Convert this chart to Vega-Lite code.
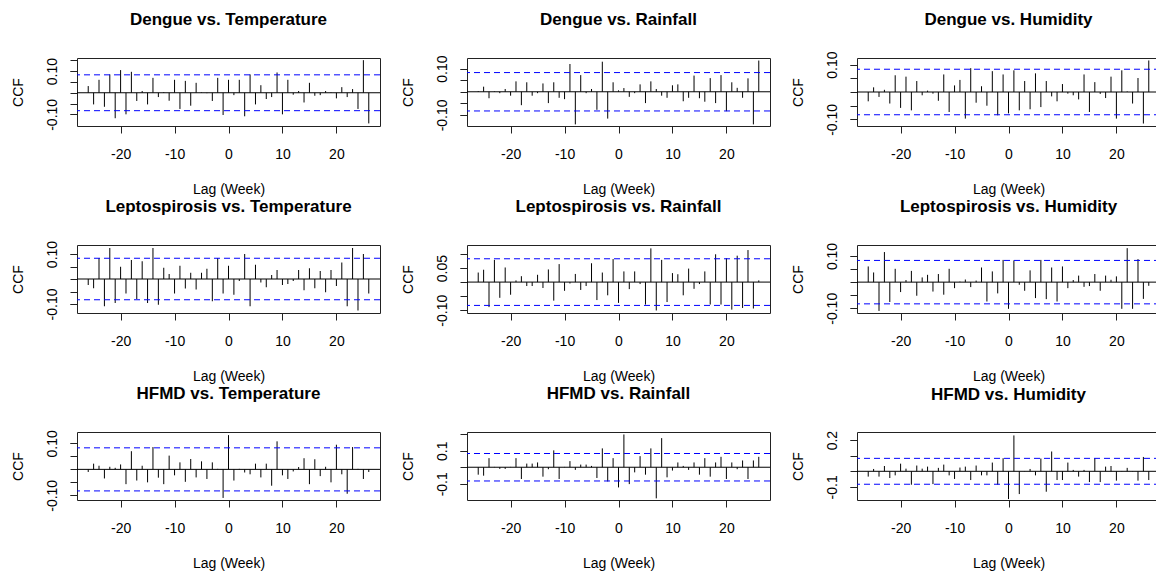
{
  "$schema": "https://vega.github.io/schema/vega-lite/v6.json",
  "autosize": {"type": "pad"},
  "padding": {"left": 10, "top": 10, "right": 0, "bottom": 0},
  "background": "white",
  "bounds": "flush",
  "spacing": 187,
  "config": {
    "font": "Liberation Sans",
    "view": {"stroke": "#222", "strokeWidth": 1},
    "axis": {"domain": false, "grid": false, "tickColor": "#222", "tickSize": 7, "labelColor": "#000", "titleColor": "#000", "labelFont": "Liberation Sans", "titleFont": "Liberation Sans", "labelFontSize": 14, "titleFontSize": 14, "titleFontWeight": "normal", "labelOverlap": false, "labelFlush": false},
    "axisX": {"labelPadding": 14, "titlePadding": 21},
    "axisY": {"labelAngle": -90, "labelAlign": "center", "labelBaseline": "bottom", "labelPadding": 11, "titlePadding": 20},
    "title": {"fontSize": 17, "fontWeight": "bold", "font": "Liberation Sans", "color": "#000", "baseline": "alphabetic", "offset": 29, "anchor": "middle"}
  },
  "datasets": {
    "ccf": [
      {"lag": -26, "dt": 0.031, "dr": 0.003, "dh": -0.034, "lt": -0.024, "lr": 0.034, "lh": 0.06, "ht": -0.01, "hr": -0.045, "hh": -0.034},
      {"lag": -25, "dt": -0.054, "dr": 0.022, "dh": 0.017, "lt": -0.037, "lr": 0.044, "lh": 0.037, "ht": 0.022, "hr": -0.051, "hh": 0.015},
      {"lag": -24, "dt": 0.06, "dr": -0.028, "dh": -0.018, "lt": 0.084, "lr": -0.089, "lh": -0.11, "ht": 0.014, "hr": 0.055, "hh": -0.034},
      {"lag": -23, "dt": -0.065, "dr": 0.002, "dh": 0.008, "lt": -0.109, "lr": 0.079, "lh": 0.115, "ht": -0.035, "hr": 0.002, "hh": 0.034},
      {"lag": -22, "dt": 0.085, "dr": -0.006, "dh": -0.042, "lt": 0.124, "lr": -0.056, "lh": -0.076, "ht": 0.01, "hr": -0.01, "hh": -0.043},
      {"lag": -21, "dt": -0.118, "dr": 0.012, "dh": 0.061, "lt": -0.096, "lr": 0.052, "lh": 0.051, "ht": 0.006, "hr": -0.01, "hh": -0.026},
      {"lag": -20, "dt": 0.105, "dr": -0.017, "dh": -0.058, "lt": 0.049, "lr": -0.045, "lh": -0.038, "ht": 0.019, "hr": 0.002, "hh": 0.049},
      {"lag": -19, "dt": -0.1, "dr": 0.045, "dh": 0.056, "lt": -0.058, "lr": 0.006, "lh": 0.008, "ht": -0.057, "hr": 0.055, "hh": 0.017},
      {"lag": -18, "dt": 0.097, "dr": -0.058, "dh": -0.067, "lt": 0.076, "lr": 0.021, "lh": 0.043, "ht": 0.07, "hr": -0.071, "hh": -0.086},
      {"lag": -17, "dt": -0.038, "dr": 0.041, "dh": 0.04, "lt": -0.08, "lr": -0.014, "lh": -0.052, "ht": -0.043, "hr": 0.022, "hh": 0.037},
      {"lag": -16, "dt": 0.008, "dr": -0.017, "dh": -0.012, "lt": 0.071, "lr": -0.014, "lh": 0.018, "ht": 0.014, "hr": 0.022, "hh": 0.017},
      {"lag": -15, "dt": -0.054, "dr": -0.006, "dh": 0.005, "lt": -0.096, "lr": 0.026, "lh": 0.028, "ht": -0.05, "hr": 0.029, "hh": 0.03},
      {"lag": -14, "dt": 0.069, "dr": 0.036, "dh": -0.006, "lt": 0.124, "lr": -0.021, "lh": -0.036, "ht": 0.086, "hr": -0.057, "hh": -0.082},
      {"lag": -13, "dt": -0.02, "dr": -0.049, "dh": -0.032, "lt": -0.103, "lr": 0.045, "lh": 0.031, "ht": -0.032, "hr": -0.012, "hh": 0.022},
      {"lag": -12, "dt": 0.003, "dr": 0.041, "dh": 0.064, "lt": 0.045, "lr": -0.066, "lh": -0.048, "ht": -0.057, "hr": 0.102, "hh": 0.043},
      {"lag": -11, "dt": -0.037, "dr": -0.026, "dh": -0.073, "lt": 0.02, "lr": 0.064, "lh": 0.051, "ht": 0.053, "hr": -0.071, "hh": -0.026},
      {"lag": -10, "dt": 0.06, "dr": -0.032, "dh": 0.024, "lt": -0.058, "lr": -0.031, "lh": -0.023, "ht": -0.023, "hr": 0.002, "hh": -0.049},
      {"lag": -9, "dt": -0.075, "dr": 0.12, "dh": 0.044, "lt": 0.053, "lr": -0.005, "lh": 0.002, "ht": 0.027, "hr": 0.037, "hh": 0.024},
      {"lag": -8, "dt": 0.055, "dr": -0.141, "dh": -0.097, "lt": -0.038, "lr": 0.029, "lh": 0.01, "ht": -0.048, "hr": -0.016, "hh": 0.03},
      {"lag": -7, "dt": -0.06, "dr": 0.072, "dh": 0.087, "lt": 0.025, "lr": -0.028, "lh": -0.019, "ht": 0.04, "hr": 0.016, "hh": -0.056},
      {"lag": -6, "dt": 0.046, "dr": -0.006, "dh": -0.039, "lt": -0.042, "lr": -0.014, "lh": 0.006, "ht": -0.031, "hr": 0.016, "hh": 0.037},
      {"lag": -5, "dt": 0.002, "dr": 0.012, "dh": 0.021, "lt": 0.025, "lr": 0.067, "lh": 0.056, "ht": 0.031, "hr": 0.008, "hh": -0.026},
      {"lag": -4, "dt": -0.002, "dr": -0.078, "dh": -0.05, "lt": 0.041, "lr": -0.064, "lh": -0.074, "ht": -0.037, "hr": -0.065, "hh": -0.026},
      {"lag": -3, "dt": -0.038, "dr": 0.13, "dh": 0.076, "lt": -0.089, "lr": 0.034, "lh": 0.041, "ht": 0.027, "hr": 0.114, "hh": 0.056},
      {"lag": -2, "dt": 0.069, "dr": -0.116, "dh": -0.085, "lt": 0.084, "lr": -0.047, "lh": -0.043, "ht": 0.002, "hr": -0.086, "hh": -0.086},
      {"lag": -1, "dt": -0.103, "dr": 0.041, "dh": 0.064, "lt": -0.058, "lr": 0.082, "lh": 0.085, "ht": -0.11, "hr": 0.055, "hh": 0.084},
      {"lag": 0, "dt": 0.06, "dr": 0.006, "dh": -0.078, "lt": 0.053, "lr": -0.074, "lh": -0.102, "ht": 0.132, "hr": -0.122, "hh": -0.178},
      {"lag": 1, "dt": -0.011, "dr": 0.016, "dh": 0.079, "lt": -0.063, "lr": 0.038, "lh": 0.083, "ht": -0.043, "hr": 0.198, "hh": 0.23},
      {"lag": 2, "dt": 0.06, "dr": -0.022, "dh": -0.067, "lt": -0.008, "lr": -0.025, "lh": -0.01, "ht": 0.002, "hr": -0.102, "hh": -0.146},
      {"lag": 3, "dt": -0.109, "dr": -0.006, "dh": 0.04, "lt": 0.1, "lr": 0.038, "lh": -0.033, "ht": -0.012, "hr": -0.031, "hh": 0.002},
      {"lag": 4, "dt": 0.085, "dr": 0.032, "dh": -0.063, "lt": -0.109, "lr": -0.007, "lh": 0.045, "ht": -0.019, "hr": 0.067, "hh": 0.015},
      {"lag": 5, "dt": -0.054, "dr": -0.049, "dh": 0.068, "lt": 0.057, "lr": -0.08, "lh": -0.061, "ht": 0.022, "hr": -0.045, "hh": -0.026},
      {"lag": 6, "dt": 0.035, "dr": 0.045, "dh": -0.055, "lt": -0.014, "lr": 0.12, "lh": 0.085, "ht": -0.031, "hr": 0.114, "hh": 0.082},
      {"lag": 7, "dt": -0.029, "dr": 0.012, "dh": 0.04, "lt": -0.033, "lr": -0.101, "lh": -0.065, "ht": 0.022, "hr": -0.188, "hh": -0.131},
      {"lag": 8, "dt": -0.02, "dr": -0.017, "dh": -0.016, "lt": 0.016, "lr": 0.079, "lh": 0.056, "ht": -0.063, "hr": 0.176, "hh": 0.127},
      {"lag": 9, "dt": 0.094, "dr": -0.026, "dh": -0.034, "lt": 0.036, "lr": -0.071, "lh": -0.074, "ht": 0.108, "hr": -0.061, "hh": -0.056},
      {"lag": 10, "dt": -0.1, "dr": 0.028, "dh": 0.029, "lt": -0.024, "lr": 0.032, "lh": 0.06, "ht": -0.023, "hr": -0.02, "hh": -0.056},
      {"lag": 11, "dt": 0.06, "dr": 0.032, "dh": -0.006, "lt": -0.02, "lr": 0.028, "lh": -0.023, "ht": -0.037, "hr": 0.029, "hh": 0.056},
      {"lag": 12, "dt": -0.009, "dr": -0.041, "dh": -0.012, "lt": -0.008, "lr": -0.047, "lh": 0.008, "ht": -0.008, "hr": 0.008, "hh": 0.009},
      {"lag": 13, "dt": 0.008, "dr": -0.026, "dh": -0.027, "lt": 0.036, "lr": 0.048, "lh": 0.025, "ht": 0.009, "hr": -0.016, "hh": -0.034},
      {"lag": 14, "dt": -0.045, "dr": 0.07, "dh": 0.064, "lt": -0.045, "lr": -0.024, "lh": -0.018, "ht": 0.043, "hr": 0.029, "hh": 0.009},
      {"lag": 15, "dt": 0.046, "dr": -0.028, "dh": -0.073, "lt": 0.043, "lr": -0.007, "lh": -0.015, "ht": -0.057, "hr": -0.045, "hh": -0.069},
      {"lag": 16, "dt": -0.014, "dr": -0.043, "dh": 0.036, "lt": -0.037, "lr": 0.038, "lh": 0.031, "ht": 0.039, "hr": 0.055, "hh": 0.084},
      {"lag": 17, "dt": -0.011, "dr": 0.059, "dh": -0.007, "lt": 0.032, "lr": -0.08, "lh": -0.033, "ht": -0.026, "hr": -0.057, "hh": -0.069},
      {"lag": 18, "dt": 0.008, "dr": -0.049, "dh": -0.022, "lt": -0.053, "lr": 0.099, "lh": 0.025, "ht": 0.01, "hr": 0.029, "hh": 0.03},
      {"lag": 19, "dt": 0.002, "dr": 0.072, "dh": 0.056, "lt": 0.036, "lr": -0.08, "lh": 0.009, "ht": -0.05, "hr": 0.063, "hh": 0.034},
      {"lag": 20, "dt": -0.026, "dr": -0.084, "dh": -0.097, "lt": -0.028, "lr": 0.085, "lh": 0.022, "ht": 0.095, "hr": -0.071, "hh": -0.06},
      {"lag": 21, "dt": 0.026, "dr": 0.041, "dh": 0.079, "lt": 0.066, "lr": -0.098, "lh": -0.102, "ht": -0.019, "hr": 0.029, "hh": 0.002},
      {"lag": 22, "dt": -0.02, "dr": 0.017, "dh": 0.002, "lt": -0.109, "lr": 0.094, "lh": 0.13, "ht": -0.094, "hr": -0.012, "hh": 0.022},
      {"lag": 23, "dt": 0.017, "dr": -0.026, "dh": -0.042, "lt": 0.124, "lr": -0.092, "lh": -0.102, "ht": 0.086, "hr": 0.041, "hh": -0.002},
      {"lag": 24, "dt": -0.075, "dr": 0.058, "dh": 0.051, "lt": -0.126, "lr": 0.114, "lh": 0.088, "ht": 0.002, "hr": -0.071, "hh": -0.06},
      {"lag": 25, "dt": 0.151, "dr": -0.141, "dh": -0.115, "lt": 0.1, "lr": -0.094, "lh": -0.064, "ht": -0.037, "hr": 0.041, "hh": 0.092},
      {"lag": 26, "dt": -0.142, "dr": 0.135, "dh": 0.115, "lt": -0.058, "lr": 0.006, "lh": -0.014, "ht": -0.01, "hr": 0.063, "hh": -0.056}
    ],
    "clim": [{"y": 0.083}, {"y": -0.083}],
    "zero": [{"y": 0}]
  },
  "vconcat": [
    {
      "bounds": "flush",
      "spacing": 87,
      "hconcat": [
        {
          "title": {"text": "Dengue vs. Temperature", "offset": 28.2}, "width": 303, "height": 68,
          "resolve": {"scale": {"y": "independent"}},
          "layer": [
            {"data": {"name": "ccf"}, "mark": {"type": "rule", "color": "#000", "strokeWidth": 1},
             "encoding": {
               "x": {"field": "lag", "type": "quantitative", "title": "Lag (Week)", "scale": {"domain": [-28.08, 28.08], "nice": false, "zero": false}, "axis": {"values": [-20, -10, 0, 10, 20], "labelExpr": "'' + datum.value"}},
               "y": {"field": "dt", "type": "quantitative", "title": "CCF", "scale": {"domain": [-0.154, 0.161], "nice": false, "zero": false}, "axis": {"values": [-0.1, 0.1], "labelExpr": "datum.value < 0 ? '-0.10' : '0.10'"}},
               "y2": {"datum": 0}}},
            {"data": {"name": "zero"}, "mark": {"type": "rule", "color": "#000"}, "encoding": {"y": {"field": "y", "type": "quantitative", "scale": {"domain": [-0.154, 0.161], "nice": false, "zero": false}, "axis": {"orient": "left", "values": [-0.1, -0.05, 0, 0.05, 0.1, 0.15], "labels": false, "title": null}}}},
            {"data": {"name": "clim"}, "mark": {"type": "rule", "color": "#0000ff", "strokeDash": [6, 4]}, "encoding": {"y": {"field": "y", "type": "quantitative", "scale": {"domain": [-0.154, 0.161], "nice": false, "zero": false}, "axis": null}}}
          ]
        },
        {
          "title": {"text": "Dengue vs. Rainfall", "offset": 25.6}, "width": 303, "height": 68,
          "resolve": {"scale": {"y": "independent"}},
          "layer": [
            {"data": {"name": "ccf"}, "mark": {"type": "rule", "color": "#000", "strokeWidth": 1},
             "encoding": {
               "x": {"field": "lag", "type": "quantitative", "title": "Lag (Week)", "scale": {"domain": [-28.08, 28.08], "nice": false, "zero": false}, "axis": {"values": [-20, -10, 0, 10, 20], "labelExpr": "'' + datum.value"}},
               "y": {"field": "dr", "type": "quantitative", "title": "CCF", "scale": {"domain": [-0.148, 0.146], "nice": false, "zero": false}, "axis": {"values": [-0.1, 0.1], "labelExpr": "datum.value < 0 ? '-0.10' : '0.10'"}},
               "y2": {"datum": 0}}},
            {"data": {"name": "zero"}, "mark": {"type": "rule", "color": "#000"}, "encoding": {"y": {"field": "y", "type": "quantitative", "scale": {"domain": [-0.148, 0.146], "nice": false, "zero": false}, "axis": {"orient": "left", "values": [-0.1, -0.05, 0, 0.05, 0.1], "labels": false, "title": null}}}},
            {"data": {"name": "clim"}, "mark": {"type": "rule", "color": "#0000ff", "strokeDash": [6, 4]}, "encoding": {"y": {"field": "y", "type": "quantitative", "scale": {"domain": [-0.148, 0.146], "nice": false, "zero": false}, "axis": null}}}
          ]
        },
        {
          "title": {"text": "Dengue vs. Humidity", "offset": 21.6}, "width": 303, "height": 68,
          "resolve": {"scale": {"y": "independent"}},
          "layer": [
            {"data": {"name": "ccf"}, "mark": {"type": "rule", "color": "#000", "strokeWidth": 1},
             "encoding": {
               "x": {"field": "lag", "type": "quantitative", "title": "Lag (Week)", "scale": {"domain": [-28.08, 28.08], "nice": false, "zero": false}, "axis": {"values": [-20, -10, 0, 10, 20], "labelExpr": "'' + datum.value"}},
               "y": {"field": "dh", "type": "quantitative", "title": "CCF", "scale": {"domain": [-0.124, 0.124], "nice": false, "zero": false}, "axis": {"values": [-0.1, 0.1], "labelExpr": "datum.value < 0 ? '-0.10' : '0.10'"}},
               "y2": {"datum": 0}}},
            {"data": {"name": "zero"}, "mark": {"type": "rule", "color": "#000"}, "encoding": {"y": {"field": "y", "type": "quantitative", "scale": {"domain": [-0.124, 0.124], "nice": false, "zero": false}, "axis": {"orient": "left", "values": [-0.1, -0.05, 0, 0.05, 0.1], "labels": false, "title": null}}}},
            {"data": {"name": "clim"}, "mark": {"type": "rule", "color": "#0000ff", "strokeDash": [6, 4]}, "encoding": {"y": {"field": "y", "type": "quantitative", "scale": {"domain": [-0.124, 0.124], "nice": false, "zero": false}, "axis": null}}}
          ]
        }
      ]
    },
    {
      "bounds": "flush",
      "spacing": 87,
      "hconcat": [
        {
          "title": {"text": "Leptospirosis vs. Temperature", "offset": 24}, "width": 303, "height": 68,
          "resolve": {"scale": {"y": "independent"}},
          "layer": [
            {"data": {"name": "ccf"}, "mark": {"type": "rule", "color": "#000", "strokeWidth": 1},
             "encoding": {
               "x": {"field": "lag", "type": "quantitative", "title": "Lag (Week)", "scale": {"domain": [-28.08, 28.08], "nice": false, "zero": false}, "axis": {"values": [-20, -10, 0, 10, 20], "labelExpr": "'' + datum.value"}},
               "y": {"field": "lt", "type": "quantitative", "title": "CCF", "scale": {"domain": [-0.136, 0.136], "nice": false, "zero": false}, "axis": {"values": [-0.1, 0.1], "labelExpr": "datum.value < 0 ? '-0.10' : '0.10'"}},
               "y2": {"datum": 0}}},
            {"data": {"name": "zero"}, "mark": {"type": "rule", "color": "#000"}, "encoding": {"y": {"field": "y", "type": "quantitative", "scale": {"domain": [-0.136, 0.136], "nice": false, "zero": false}, "axis": {"orient": "left", "values": [-0.1, -0.05, 0, 0.05, 0.1], "labels": false, "title": null}}}},
            {"data": {"name": "clim"}, "mark": {"type": "rule", "color": "#0000ff", "strokeDash": [6, 4]}, "encoding": {"y": {"field": "y", "type": "quantitative", "scale": {"domain": [-0.136, 0.136], "nice": false, "zero": false}, "axis": null}}}
          ]
        },
        {
          "title": {"text": "Leptospirosis vs. Rainfall", "offset": 29}, "width": 303, "height": 68,
          "resolve": {"scale": {"y": "independent"}},
          "layer": [
            {"data": {"name": "ccf"}, "mark": {"type": "rule", "color": "#000", "strokeWidth": 1},
             "encoding": {
               "x": {"field": "lag", "type": "quantitative", "title": "Lag (Week)", "scale": {"domain": [-28.08, 28.08], "nice": false, "zero": false}, "axis": {"values": [-20, -10, 0, 10, 20], "labelExpr": "'' + datum.value"}},
               "y": {"field": "lr", "type": "quantitative", "title": "CCF", "scale": {"domain": [-0.11, 0.132], "nice": false, "zero": false}, "axis": {"values": [-0.1, 0.05], "labelExpr": "datum.value < 0 ? '-0.10' : '0.05'"}},
               "y2": {"datum": 0}}},
            {"data": {"name": "zero"}, "mark": {"type": "rule", "color": "#000"}, "encoding": {"y": {"field": "y", "type": "quantitative", "scale": {"domain": [-0.11, 0.132], "nice": false, "zero": false}, "axis": {"orient": "left", "values": [-0.1, -0.05, 0, 0.05, 0.1], "labels": false, "title": null}}}},
            {"data": {"name": "clim"}, "mark": {"type": "rule", "color": "#0000ff", "strokeDash": [6, 4]}, "encoding": {"y": {"field": "y", "type": "quantitative", "scale": {"domain": [-0.11, 0.132], "nice": false, "zero": false}, "axis": null}}}
          ]
        },
        {
          "title": {"text": "Leptospirosis vs. Humidity", "offset": 26}, "width": 303, "height": 68,
          "resolve": {"scale": {"y": "independent"}},
          "layer": [
            {"data": {"name": "ccf"}, "mark": {"type": "rule", "color": "#000", "strokeWidth": 1},
             "encoding": {
               "x": {"field": "lag", "type": "quantitative", "title": "Lag (Week)", "scale": {"domain": [-28.08, 28.08], "nice": false, "zero": false}, "axis": {"values": [-20, -10, 0, 10, 20], "labelExpr": "'' + datum.value"}},
               "y": {"field": "lh", "type": "quantitative", "title": "CCF", "scale": {"domain": [-0.118, 0.142], "nice": false, "zero": false}, "axis": {"values": [-0.1, 0.1], "labelExpr": "datum.value < 0 ? '-0.10' : '0.10'"}},
               "y2": {"datum": 0}}},
            {"data": {"name": "zero"}, "mark": {"type": "rule", "color": "#000"}, "encoding": {"y": {"field": "y", "type": "quantitative", "scale": {"domain": [-0.118, 0.142], "nice": false, "zero": false}, "axis": {"orient": "left", "values": [-0.1, -0.05, 0, 0.05, 0.1], "labels": false, "title": null}}}},
            {"data": {"name": "clim"}, "mark": {"type": "rule", "color": "#0000ff", "strokeDash": [6, 4]}, "encoding": {"y": {"field": "y", "type": "quantitative", "scale": {"domain": [-0.118, 0.142], "nice": false, "zero": false}, "axis": null}}}
          ]
        }
      ]
    },
    {
      "bounds": "flush",
      "spacing": 87,
      "hconcat": [
        {
          "title": {"text": "HFMD vs. Temperature", "offset": 26.4}, "width": 303, "height": 68,
          "resolve": {"scale": {"y": "independent"}},
          "layer": [
            {"data": {"name": "ccf"}, "mark": {"type": "rule", "color": "#000", "strokeWidth": 1},
             "encoding": {
               "x": {"field": "lag", "type": "quantitative", "title": "Lag (Week)", "scale": {"domain": [-28.08, 28.08], "nice": false, "zero": false}, "axis": {"values": [-20, -10, 0, 10, 20], "labelExpr": "'' + datum.value"}},
               "y": {"field": "ht", "type": "quantitative", "title": "CCF", "scale": {"domain": [-0.118, 0.144], "nice": false, "zero": false}, "axis": {"values": [-0.1, 0.1], "labelExpr": "datum.value < 0 ? '-0.10' : '0.10'"}},
               "y2": {"datum": 0}}},
            {"data": {"name": "zero"}, "mark": {"type": "rule", "color": "#000"}, "encoding": {"y": {"field": "y", "type": "quantitative", "scale": {"domain": [-0.118, 0.144], "nice": false, "zero": false}, "axis": {"orient": "left", "values": [-0.1, -0.05, 0, 0.05, 0.1], "labels": false, "title": null}}}},
            {"data": {"name": "clim"}, "mark": {"type": "rule", "color": "#0000ff", "strokeDash": [6, 4]}, "encoding": {"y": {"field": "y", "type": "quantitative", "scale": {"domain": [-0.118, 0.144], "nice": false, "zero": false}, "axis": null}}}
          ]
        },
        {
          "title": {"text": "HFMD vs. Rainfall", "offset": 29}, "width": 303, "height": 68,
          "resolve": {"scale": {"y": "independent"}},
          "layer": [
            {"data": {"name": "ccf"}, "mark": {"type": "rule", "color": "#000", "strokeWidth": 1},
             "encoding": {
               "x": {"field": "lag", "type": "quantitative", "title": "Lag (Week)", "scale": {"domain": [-28.08, 28.08], "nice": false, "zero": false}, "axis": {"values": [-20, -10, 0, 10, 20], "labelExpr": "'' + datum.value"}},
               "y": {"field": "hr", "type": "quantitative", "title": "CCF", "scale": {"domain": [-0.198, 0.213], "nice": false, "zero": false}, "axis": {"values": [-0.1, 0.1], "labelExpr": "datum.value < 0 ? '-0.1' : '0.1'"}},
               "y2": {"datum": 0}}},
            {"data": {"name": "zero"}, "mark": {"type": "rule", "color": "#000"}, "encoding": {"y": {"field": "y", "type": "quantitative", "scale": {"domain": [-0.198, 0.213], "nice": false, "zero": false}, "axis": {"orient": "left", "values": [-0.1, 0, 0.1, 0.2], "labels": false, "title": null}}}},
            {"data": {"name": "clim"}, "mark": {"type": "rule", "color": "#0000ff", "strokeDash": [6, 4]}, "encoding": {"y": {"field": "y", "type": "quantitative", "scale": {"domain": [-0.198, 0.213], "nice": false, "zero": false}, "axis": null}}}
          ]
        },
        {
          "title": {"text": "HFMD vs. Humidity", "offset": 26.6}, "width": 303, "height": 68,
          "resolve": {"scale": {"y": "independent"}},
          "layer": [
            {"data": {"name": "ccf"}, "mark": {"type": "rule", "color": "#000", "strokeWidth": 1},
             "encoding": {
               "x": {"field": "lag", "type": "quantitative", "title": "Lag (Week)", "scale": {"domain": [-28.08, 28.08], "nice": false, "zero": false}, "axis": {"values": [-20, -10, 0, 10, 20], "labelExpr": "'' + datum.value"}},
               "y": {"field": "hh", "type": "quantitative", "title": "CCF", "scale": {"domain": [-0.184, 0.252], "nice": false, "zero": false}, "axis": {"values": [-0.1, 0.2], "labelExpr": "datum.value < 0 ? '-0.1' : '0.2'"}},
               "y2": {"datum": 0}}},
            {"data": {"name": "zero"}, "mark": {"type": "rule", "color": "#000"}, "encoding": {"y": {"field": "y", "type": "quantitative", "scale": {"domain": [-0.184, 0.252], "nice": false, "zero": false}, "axis": {"orient": "left", "values": [-0.1, 0, 0.1, 0.2], "labels": false, "title": null}}}},
            {"data": {"name": "clim"}, "mark": {"type": "rule", "color": "#0000ff", "strokeDash": [6, 4]}, "encoding": {"y": {"field": "y", "type": "quantitative", "scale": {"domain": [-0.184, 0.252], "nice": false, "zero": false}, "axis": null}}}
          ]
        }
      ]
    }
  ]
}
